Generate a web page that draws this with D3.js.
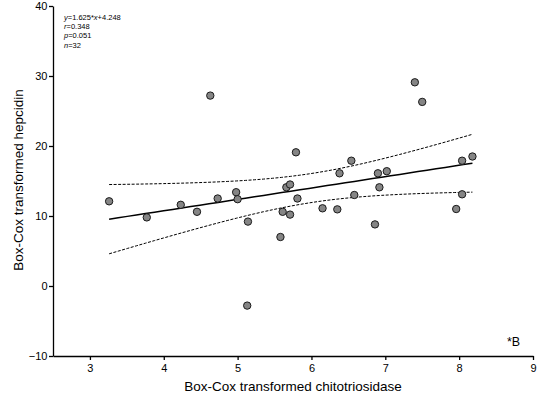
<!DOCTYPE html>
<html>
<head>
<meta charset="utf-8">
<script src="https://cdn.jsdelivr.net/npm/d3@7"></script>
<style>
  body { margin: 0; background: #fff; }
  svg { display: block; font-family: "Liberation Sans", Arial, sans-serif; }
</style>
</head>
<body>
<div id="chart"></div>
<script>
// chitotriosidase (x) vs hepcidin (y), both Box-Cox transformed
var xVals = [3.26, 3.77, 4.23, 4.45, 4.63, 4.73, 4.98, 5.00, 5.13, 5.14, 5.58, 5.61, 5.66, 5.71, 5.71, 5.79,
             5.81, 6.15, 6.35, 6.38, 6.54, 6.58, 6.86, 6.90, 6.92, 7.02, 7.40, 7.50, 7.96, 8.04, 8.04, 8.18];
var yVals = [12.1, 9.8, 11.6, 10.6, 27.2, 12.5, 13.4, 12.4, -2.8, 9.2, 7.0, 10.6, 14.1, 14.5, 10.2, 19.1,
             12.5, 11.1, 10.95, 16.1, 17.9, 13.0, 8.8, 16.1, 14.1, 16.4, 29.1, 26.3, 11.0, 13.1, 17.9, 18.5];
var slope = 1.625, intercept = 4.248;
var statLines = [["y", "=1.625*", "x", "+4.248"], ["r", "=0.348"], ["p", "=0.051"], ["n", "=32"]];
var xTicks = [3, 4, 5, 6, 7, 8, 9];
var yTicks = [-10, 0, 10, 20, 30, 40];

var width = 537, height = 402;
var svg = d3.select("#chart").append("svg")
    .attr("width", width)
    .attr("height", height);

var x = d3.scaleLinear().domain([2.5, 9]).range([53, 533]);
var y = d3.scaleLinear().domain([-10, 40]).range([356, 6]);

// axes
var xAxis = svg.append("g")
    .attr("transform", "translate(0," + y(-10) + ")")
    .call(d3.axisBottom(x).tickValues(xTicks).tickFormat(d3.format("d"))
        .tickSize(4).tickSizeOuter(0).tickPadding(4));
var yAxis = svg.append("g")
    .attr("transform", "translate(" + x(2.5) + ",0)")
    .call(d3.axisLeft(y).tickValues(yTicks).tickFormat(d3.format("d"))
        .tickSize(4).tickSizeOuter(0).tickPadding(1.5));
[xAxis, yAxis].forEach(function(a) {
    a.selectAll("path, line").attr("stroke", "#000").attr("stroke-width", 1.3);
    a.selectAll("text").attr("font-size", 11).attr("fill", "#000")
        .attr("font-family", "Liberation Sans, Arial, sans-serif");
});

// 95% confidence band around the given fit
var pts = xVals.map(function(v, i) { return {x: v, y: yVals[i]}; });
var n = pts.length;
var xMean = d3.mean(xVals);
var sxx = d3.sum(xVals, function(v) { return (v - xMean) * (v - xMean); });
var sse = d3.sum(pts, function(d) { var e = d.y - (slope * d.x + intercept); return e * e; });
var s = Math.sqrt(sse / (n - 2));
var tCrit = 2.042;
var xMin = d3.min(xVals), xMax = d3.max(xVals);
var band = d3.range(0, 41).map(function(i) {
    var xv = xMin + (xMax - xMin) * i / 40;
    var fit = slope * xv + intercept;
    var h = tCrit * s * Math.sqrt(1 / n + (xv - xMean) * (xv - xMean) / sxx);
    return {x: xv, lo: fit - h, hi: fit + h, fit: fit};
});

var line = function(key) {
    return d3.line().x(function(d) { return x(d.x); }).y(function(d) { return y(d[key]); });
};
["lo", "hi"].forEach(function(k) {
    svg.append("path").datum(band)
        .attr("d", line(k))
        .attr("fill", "none")
        .attr("stroke", "#000")
        .attr("stroke-width", 1)
        .attr("stroke-dasharray", "3,1.5");
});
svg.append("path").datum(band)
    .attr("d", line("fit"))
    .attr("fill", "none")
    .attr("stroke", "#000")
    .attr("stroke-width", 1.5);

// points
svg.selectAll("circle")
    .data(pts)
    .enter().append("circle")
    .attr("cx", function(d) { return x(d.x); })
    .attr("cy", function(d) { return y(d.y); })
    .attr("r", 3.7)
    .attr("fill", "#858585")
    .attr("stroke", "#1a1a1a")
    .attr("stroke-width", 1);

// stats box
var stats = svg.append("text")
    .attr("x", 64)
    .attr("y", 20)
    .attr("font-size", 7.5);
statLines.forEach(function(parts, i) {
    parts.forEach(function(p, j) {
        var ts = stats.append("tspan").text(p);
        if (j === 0) ts.attr("x", 64).attr("dy", i === 0 ? 0 : 9.2);
        if (j % 2 === 0) ts.attr("font-style", "italic");
    });
});

// titles
svg.append("text")
    .attr("x", 293)
    .attr("y", 391)
    .attr("text-anchor", "middle")
    .attr("font-size", 13.5)
    .text("Box-Cox transformed chitotriosidase");
svg.append("text")
    .attr("transform", "translate(23,180) rotate(-90)")
    .attr("text-anchor", "middle")
    .attr("font-size", 13.5)
    .text("Box-Cox transformed hepcidin");
svg.append("text")
    .attr("x", 507)
    .attr("y", 346)
    .attr("font-size", 12.5)
    .text("*B");
</script>
</body>
</html>
